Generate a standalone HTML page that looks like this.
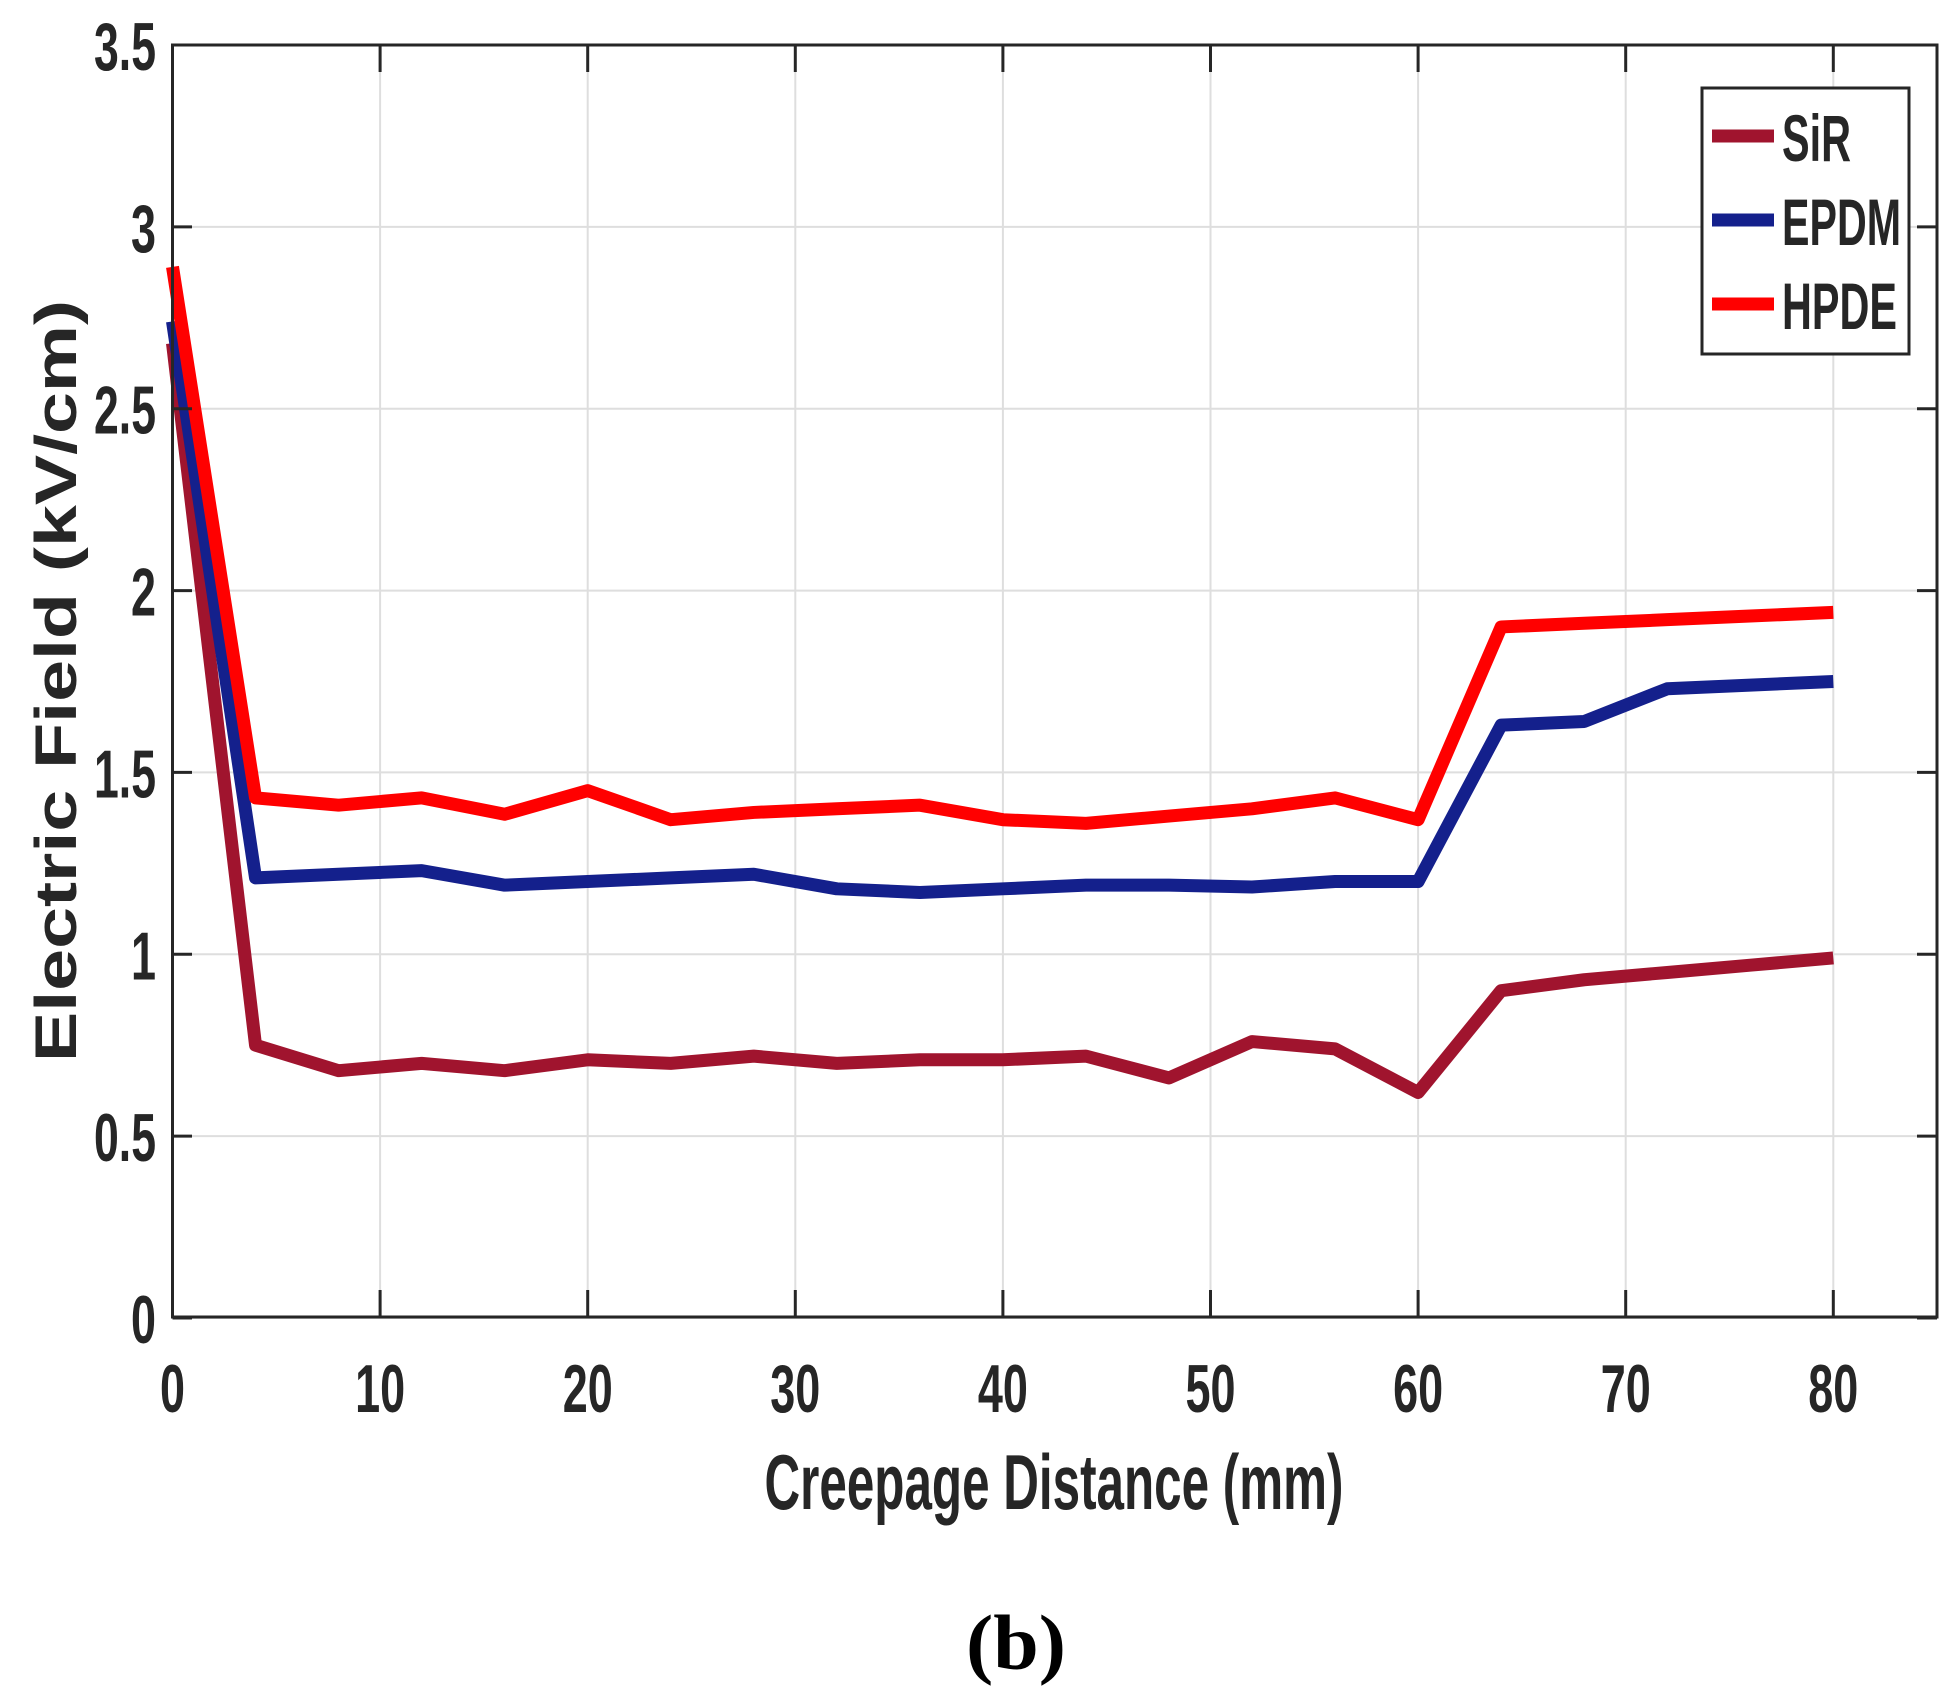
<!DOCTYPE html>
<html><head><meta charset="utf-8"><style>
html,body{margin:0;padding:0;background:#fff;}
svg text{font-family:"Liberation Sans",sans-serif;font-weight:bold;fill:#262626;}
</style></head><body>
<svg id="chart" width="1960" height="1699" viewBox="0 0 1960 1699" xmlns="http://www.w3.org/2000/svg">
<g id="grid"></g>
<g id="series"></g>
<rect x="172.5" y="45" width="1764.5" height="1272" fill="none" stroke="#262626" stroke-width="3"/>
<g id="ticks"></g>
<text transform="translate(76,681) rotate(-90)" text-anchor="middle" textLength="762" lengthAdjust="spacingAndGlyphs" style="font-size:58px;">Electric Field (kV/cm)</text>
<text x="1054" y="1509" text-anchor="middle" textLength="579" lengthAdjust="spacingAndGlyphs" style="font-size:78px;">Creepage Distance (mm)</text>
<text x="1016" y="1669" text-anchor="middle" textLength="100" lengthAdjust="spacingAndGlyphs" style="font-family:'Liberation Serif',serif;font-size:78px;font-weight:bold;fill:#000;">(b)</text>
<g>
<rect x="1702" y="88" width="207" height="266" fill="#fff" stroke="#262626" stroke-width="3"/>
<line x1="1712" y1="136" x2="1774" y2="136" stroke="#A0142E" stroke-width="13"/>
<text x="1782" y="161" textLength="69" lengthAdjust="spacingAndGlyphs" style="font-size:66px;">SiR</text>
<line x1="1712" y1="220" x2="1774" y2="220" stroke="#14208C" stroke-width="13"/>
<text x="1782" y="245" textLength="119" lengthAdjust="spacingAndGlyphs" style="font-size:66px;">EPDM</text>
<line x1="1712" y1="304" x2="1774" y2="304" stroke="#FF0000" stroke-width="13"/>
<text x="1782" y="329" textLength="115" lengthAdjust="spacingAndGlyphs" style="font-size:66px;">HPDE</text>
</g>
</svg>
<script>
const xValues=[0,4,8,12,16,20,24,28,32,36,40,44,48,52,56,60,64,68,72,76,80];
const sirValues=[2.68,0.75,0.68,0.70,0.68,0.71,0.70,0.72,0.70,0.71,0.71,0.72,0.66,0.76,0.74,0.62,0.90,0.93,0.95,0.97,0.99];
const epdmValues=[2.74,1.21,1.22,1.23,1.19,1.20,1.21,1.22,1.18,1.17,1.18,1.19,1.19,1.185,1.20,1.20,1.63,1.64,1.73,1.74,1.75];
const hpdeValues=[2.89,1.43,1.41,1.43,1.385,1.45,1.37,1.39,1.40,1.41,1.37,1.36,1.38,1.40,1.43,1.37,1.90,1.91,1.92,1.93,1.94];
const xTicks=[0,10,20,30,40,50,60,70,80];
const yTicks=[0,0.5,1,1.5,2,2.5,3,3.5];
const yTickLabels=["0","0.5","1","1.5","2","2.5","3","3.5"];
const NS="http://www.w3.org/2000/svg";
function xs(v){return 172.5+v*20.76;}
function ys(v){return 1318-v*(1273/3.5);}
function mk(tag,attrs,parent){const e=document.createElementNS(NS,tag);for(const k in attrs)e.setAttribute(k,attrs[k]);parent.appendChild(e);return e;}
function tlen(s){let w=0;for(const c of s)w+=(c==='.'?12:25);return w;}
const grid=document.getElementById('grid'),ticks=document.getElementById('ticks'),series=document.getElementById('series');
xTicks.forEach(t=>{
  const g=mk('line',{x1:xs(t),x2:xs(t),y1:45,y2:1317,stroke:'#dedede','stroke-width':2},grid);
  
  
  const a=mk('line',{x1:xs(t),x2:xs(t),y1:1317,y2:1290,stroke:'#262626','stroke-width':3},ticks);
  
  
  const b=mk('line',{x1:xs(t),x2:xs(t),y1:45,y2:72,stroke:'#262626','stroke-width':3},ticks);
  
  
  const s=String(t);
  const tx=mk('text',{x:xs(t),y:1412,'text-anchor':'middle','font-size':68,textLength:tlen(s),lengthAdjust:'spacingAndGlyphs'},ticks);
  tx.textContent=s;
  
  
});
yTicks.forEach((t,i)=>{
  const g=mk('line',{x1:172.5,x2:1937,y1:ys(t),y2:ys(t),stroke:'#dedede','stroke-width':2},grid);
  
  
  const a=mk('line',{x1:172.5,x2:192,y1:ys(t),y2:ys(t),stroke:'#262626','stroke-width':3},ticks);
  
  
  const b=mk('line',{x1:1917,x2:1937,y1:ys(t),y2:ys(t),stroke:'#262626','stroke-width':3},ticks);
  
  
  const s=yTickLabels[i];
  const tx=mk('text',{x:156,y:ys(t)+25,'text-anchor':'end','font-size':68,textLength:tlen(s),lengthAdjust:'spacingAndGlyphs'},ticks);
  tx.textContent=s;
  
  
});
function drawLine(vals,color,name){
  const pts=vals.map((v,i)=>xs(xValues[i])+','+ys(v)).join(' ');
  const p=mk('polyline',{points:pts,fill:'none',stroke:color,'stroke-width':13,'stroke-linejoin':'round'},series);
  
  
}
drawLine(sirValues,'#A0142E','sir-line');
drawLine(epdmValues,'#14208C','epdm-line');
drawLine(hpdeValues,'#FF0000','hpde-line');
</script>
</body></html>
